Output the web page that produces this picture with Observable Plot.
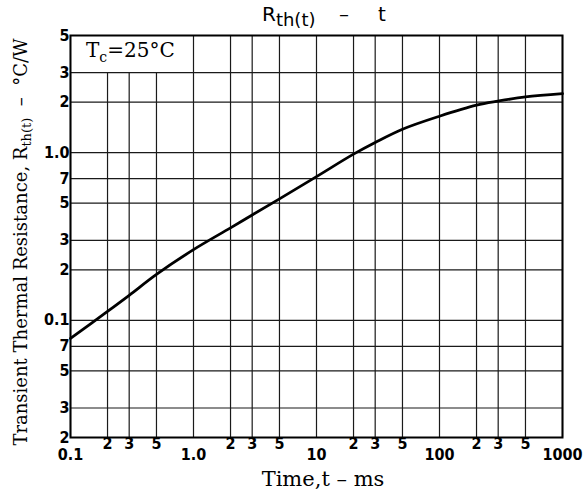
<!DOCTYPE html>
<html>
<head>
<meta charset="utf-8">
<script src="https://cdn.jsdelivr.net/npm/d3@7"></script>
<script src="https://cdn.jsdelivr.net/npm/@observablehq/plot@0.6"></script>
<style>
  html, body { margin: 0; padding: 0; background: #fff; }
  #chart svg { display: block; }
</style>
</head>
<body>
<div id="chart"></div>
<script>
// Curve data (time in ms, Rth(t) in °C/W)
const times = [0.1, 0.2, 0.3, 0.5, 1, 2, 3, 5, 10, 20, 30, 50, 100, 200, 300, 500, 1000];
const rth   = [0.078, 0.113, 0.141, 0.188, 0.264, 0.356, 0.425, 0.53, 0.72, 0.98, 1.15, 1.38, 1.65, 1.92, 2.03, 2.15, 2.25];

// Grid lines
const xGrid = [0.1, 0.2, 0.3, 0.5, 1, 2, 3, 5, 10, 20, 30, 50, 100, 200, 300, 500, 1000];
const yGrid = [0.02, 0.03, 0.05, 0.07, 0.1, 0.2, 0.3, 0.5, 0.7, 1, 2, 3, 5];

// Tick labels
const xMajorTicks = [0.1, 1, 10, 100, 1000];
const xMajorLabels = ["0.1", "1.0", "10", "100", "1000"];
const xMinorTicks = [0.2, 0.3, 0.5, 2, 3, 5, 20, 30, 50, 200, 300, 500];
const xMinorLabels = ["2", "3", "5", "2", "3", "5", "2", "3", "5", "2", "3", "5"];
const yTicks = [0.02, 0.03, 0.05, 0.07, 0.1, 0.2, 0.3, 0.5, 0.7, 1, 2, 3, 5];
const yLabels = ["2", "3", "5", "7", "0.1", "2", "3", "5", "7", "1.0", "2", "3", "5"];

// Annotation box (data space) behind "Tc = 25°C"
const noteBox = [{x1: 0.1, x2: 0.93, y1: 3, y2: 5}];

const data = times.map((t, i) => ({t, r: rth[i]}));

const tickFont = "'DejaVu Sans Condensed', 'DejaVu Sans', sans-serif";
const tickStyle = {fontSize: 16, fontWeight: "bold", fontFamily: tickFont, fill: "#000"};

const chart = Plot.plot({
  width: 584,
  height: 493,
  marginLeft: 70,
  marginRight: 22,
  marginTop: 35,
  marginBottom: 56,
  style: {background: "white", color: "#111"},
  x: {type: "log", domain: [0.1, 1000], axis: null},
  y: {type: "log", domain: [0.02, 5], axis: null},
  marks: [
    Plot.ruleX(xGrid, {stroke: "#1a1a1a", strokeWidth: 1.2}),
    Plot.rect(noteBox, {x1: "x1", x2: "x2", y1: "y1", y2: "y2", fill: "white"}),
    Plot.ruleY(yGrid, {stroke: "#1a1a1a", strokeWidth: 1.2}),
    Plot.line(data, {x: "t", y: "r", stroke: "#000", strokeWidth: 2.8, curve: "catmull-rom"}),
    Plot.frame({stroke: "#000", strokeWidth: 2}),
    Plot.text(yTicks, {y: (d) => d, text: (d, i) => yLabels[i], frameAnchor: "left",
      textAnchor: "end", dx: -1, ...tickStyle}),
    Plot.text(xMajorTicks, {x: (d) => d, text: (d, i) => xMajorLabels[i], frameAnchor: "bottom",
      lineAnchor: "top", dy: 11, ...tickStyle}),
    Plot.text(xMinorTicks, {x: (d) => d, text: (d, i) => xMinorLabels[i], frameAnchor: "bottom",
      lineAnchor: "top", dy: 0, ...tickStyle})
  ]
});

document.getElementById("chart").appendChild(chart);

const svg = d3.select(chart);
const serif = "'DejaVu Serif', 'Liberation Serif', serif";

// Title
const title = svg.append("text")
  .attr("x", 262).attr("y", 21)
  .attr("text-anchor", "start")
  .attr("font-family", "'DejaVu Sans', sans-serif")
  .attr("font-size", 20).attr("fill", "#000");
title.append("tspan").text("R");
title.append("tspan").attr("font-size", 18).attr("dy", 5).text("th(t)");
title.append("tspan").attr("x", 339).attr("dy", -5).text("–");
title.append("tspan").attr("x", 378).text("t");

// Y label
const yl = svg.append("text")
  .attr("transform", "translate(27,242) rotate(-90)")
  .attr("text-anchor", "middle")
  .attr("font-family", serif)
  .attr("font-size", 18).attr("fill", "#000");
yl.append("tspan").text("Transient Thermal Resistance, R");
yl.append("tspan").attr("font-size", 13).attr("dy", 4).text("th(t)");
yl.append("tspan").attr("dy", -4).text("  –  °C/W");

// X label
svg.append("text")
  .attr("x", 323).attr("y", 486)
  .attr("text-anchor", "middle")
  .attr("font-family", serif)
  .attr("font-size", 21).attr("fill", "#000")
  .text("Time,t – ms");

// Tc annotation
const tc = svg.append("text")
  .attr("x", 86).attr("y", 57)
  .attr("text-anchor", "start")
  .attr("font-family", serif)
  .attr("font-size", 20).attr("fill", "#000");
tc.append("tspan").text("T");
tc.append("tspan").attr("font-size", 14).attr("dy", 5).text("c");
tc.append("tspan").attr("dy", -5).text("=25°C");
</script>
</body>
</html>
